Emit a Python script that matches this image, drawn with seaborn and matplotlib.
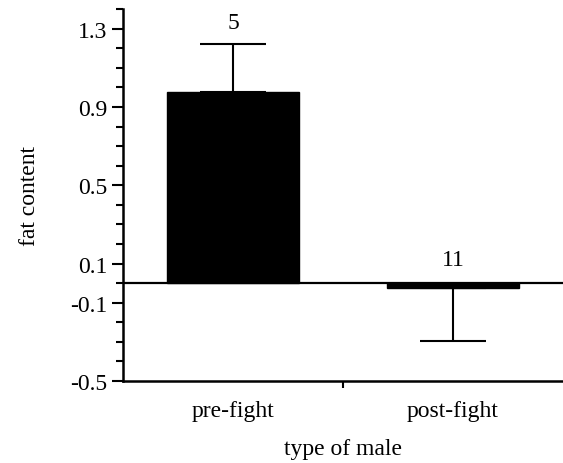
import matplotlib
matplotlib.use("Agg")
import matplotlib.pyplot as plt
import seaborn as sns
import pandas as pd
from matplotlib.ticker import FixedLocator, MultipleLocator

# values
groups = ["pre-fight", "post-fight"]
fat_mean = [0.975, -0.025]
fat_err = [0.245, 0.273]
sample_n = ["5", "11"]
y_ticks = [1.3, 0.9, 0.5, 0.1, -0.1, -0.5]

sns.set_style("ticks")
plt.rcParams["font.family"] = ["Liberation Serif", "DejaVu Serif"]
plt.rcParams["text.color"] = "black"
plt.rcParams["axes.labelcolor"] = "black"
plt.rcParams["xtick.color"] = "black"
plt.rcParams["ytick.color"] = "black"

df = pd.DataFrame({"type": groups, "fat": fat_mean})

fig = plt.figure(figsize=(5.63, 4.64), dpi=100)
ax = fig.add_axes([0.2185, 0.1767, 0.7815, 0.8013])

sns.barplot(data=df, x="type", y="fat", order=groups, color="black",
            width=0.6, errorbar=None, saturation=1, ax=ax)
for p in ax.patches:
    p.set_facecolor("black")
    p.set_edgecolor("black")

# one-sided error bars
for i, (m, e) in enumerate(zip(fat_mean, fat_err)):
    if m >= 0:
        yerr = [[0], [e]]
        ax.text(i, m + e + 0.06, sample_n[i], ha="center", va="bottom", fontsize=17)
    else:
        yerr = [[e], [0]]
        ax.text(i, 0.065, sample_n[i], ha="center", va="bottom", fontsize=17)
    ax.errorbar(i, m, yerr=yerr, fmt="none", ecolor="black", elinewidth=1.5,
                capsize=24, capthick=1.5)

ax.axhline(0, color="black", linewidth=1.6, zorder=3)

ax.set_xlim(-0.5, 1.5)
ax.set_ylim(-0.5, 1.4)
ax.set_yticks(y_ticks)
ax.set_yticklabels([f"{v:.1f}" for v in y_ticks])
ax.yaxis.set_minor_locator(MultipleLocator(0.1))
ax.xaxis.set_minor_locator(FixedLocator([0.5]))

ax.tick_params(axis="y", which="major", length=8, width=1.5, labelsize=17, pad=3)
ax.tick_params(axis="y", which="minor", length=5, width=1.5)
ax.tick_params(axis="x", which="major", length=0, labelsize=17, pad=14)
ax.tick_params(axis="x", which="minor", length=5, width=1.5)

sns.despine(ax=ax, top=True, right=True)
for s in ["left", "bottom"]:
    ax.spines[s].set_linewidth(1.8)
    ax.spines[s].set_color("black")

ax.set_xlabel("type of male", fontsize=17, labelpad=12)
ax.set_ylabel("fat content", fontsize=17, labelpad=22)

fig.savefig("out.png", dpi=100)
